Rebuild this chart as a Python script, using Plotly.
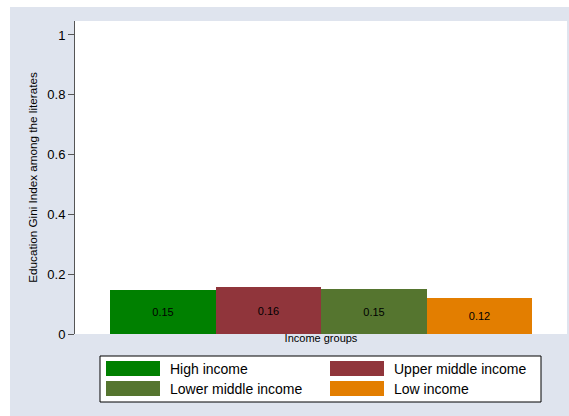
import plotly.graph_objects as go

# ---- data ----
categories = ["High income", "Upper middle income", "Lower middle income", "Low income"]
gini_values = [0.147, 0.158, 0.150, 0.121]
bar_labels = ["0.15", "0.16", "0.15", "0.12"]
bar_colors = ["#008000", "#90353b", "#55752f", "#e37e00"]
y_ticks = [0, 0.2, 0.4, 0.6, 0.8, 1]
y_ticktext = ["0", "0.2", "0.4", "0.6", "0.8", "1"]

FONT = "Liberation Sans, Arial, Helvetica, sans-serif"
BG = "#dfe4ee"

W, H = 569, 416
ML, MR, MT, MB = 75, 2, 21, 82
PW, PH = W - ML - MR, H - MT - MB


def px_x(x):
    return (x - ML) / PW


def px_y(y):
    return (H - MB - y) / PH


fig = go.Figure(
    go.Bar(
        x=categories,
        y=gini_values,
        text=bar_labels,
        textposition="inside",
        insidetextanchor="middle",
        textangle=0,
        textfont=dict(family=FONT, size=11, color="#000000"),
        marker=dict(color=bar_colors, line=dict(width=0)),
        width=1,
        showlegend=False,
        hoverinfo="x+y",
    )
)

shapes = []
annotations = []
# white outer strip (top and left), rest of page is bluish grey
shapes.append(dict(type="rect", xref="paper", yref="paper", x0=px_x(0), x1=px_x(W),
                   y0=px_y(7), y1=px_y(0), fillcolor="white", line=dict(width=0), layer="above"))
shapes.append(dict(type="rect", xref="paper", yref="paper", x0=px_x(0), x1=px_x(10),
                   y0=px_y(H), y1=px_y(0), fillcolor="white", line=dict(width=0), layer="above"))

# legend box
shapes.append(dict(type="rect", xref="paper", yref="paper", x0=px_x(100), x1=px_x(541),
                   y0=px_y(402), y1=px_y(356), fillcolor="white",
                   line=dict(color="#000000", width=1), layer="above"))
col_x = [106, 330]
row_y = [361, 381]
for i, (cat, col) in enumerate(zip(categories, bar_colors)):
    cx = col_x[i % 2]
    ry = row_y[i // 2]
    shapes.append(dict(type="rect", xref="paper", yref="paper", x0=px_x(cx), x1=px_x(cx + 54),
                       y0=px_y(ry + 15), y1=px_y(ry), fillcolor=col, line=dict(width=0), layer="above"))
    annotations.append(dict(xref="paper", yref="paper", x=px_x(cx + 62), y=px_y(ry + 7.5),
                            text=cat, showarrow=False, xanchor="left", yanchor="middle",
                            font=dict(family=FONT, size=14, color="#000000")))

fig.update_layout(
    width=W, height=H,
    margin=dict(l=ML, r=MR, t=MT, b=MB, pad=0),
    paper_bgcolor=BG,
    plot_bgcolor="white",
    font=dict(family=FONT, color="#000000"),
    bargap=0,
    shapes=shapes,
    annotations=annotations,
    xaxis=dict(
        range=[-0.8318, 3.8318],
        showticklabels=False,
        ticks="",
        showline=False,
        showgrid=False,
        zeroline=False,
        title=dict(text="Income groups", font=dict(family=FONT, size=11), standoff=0),
    ),
    yaxis=dict(
        range=[0, 1.0467],
        tickvals=y_ticks,
        ticktext=y_ticktext,
        ticks="outside",
        ticklen=6,
        tickcolor="#555555",
        tickfont=dict(family=FONT, size=13, color="#000000"),
        showline=True,
        linecolor="#555555",
        linewidth=1,
        showgrid=False,
        zeroline=False,
        title=dict(text="Education Gini Index among the literates",
                   font=dict(family=FONT, size=11.7), standoff=7),
    ),
)

fig.write_html(
    "out.html",
    config={"displayModeBar": False},
    post_script="document.body.style.margin='0';document.body.style.overflow='hidden';",
)
